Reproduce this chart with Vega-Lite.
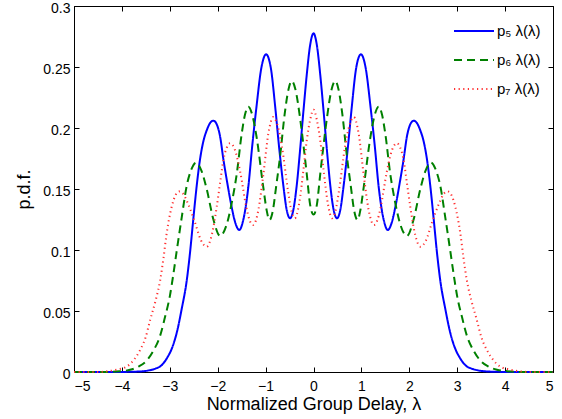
{
 "$schema": "https://vega.github.io/schema/vega-lite/v6.json",
 "width": 479,
 "height": 366,
 "autosize": {"type": "none"},
 "padding": {"left": 74, "top": 6, "right": 9, "bottom": 47},
 "background": "white",
 "config": {
  "view": {"stroke": "black", "strokeWidth": 1},
  "font": "Liberation Sans",
  "axis": {"domainColor": "black", "tickColor": "black", "labelColor": "black", "titleColor": "black", "labelFont": "Liberation Sans", "titleFont": "Liberation Sans", "labelFontSize": 14, "titleFontSize": 18, "titleFontWeight": "normal", "grid": false, "tickSize": -5, "tickWidth": 1, "domainWidth": 1},
  "legend": {"orient": "none", "legendX": 379, "legendY": 4, "padding": 0, "symbolType": "stroke", "symbolSize": 1600, "symbolStrokeWidth": 2, "rowPadding": -11.5, "labelOffset": 2, "labelFont": "Liberation Sans", "labelFontSize": 15, "labelColor": "black"}
 },
 "data": {"values": [
  {"s":"p5","x":-5,"y":0},{"s":"p5","x":-4.2,"y":0},{"s":"p5","x":-3.9,"y":0.0001},{"s":"p5","x":-3.7,"y":0.0003},{"s":"p5","x":-3.5,"y":0.0009},{"s":"p5","x":-3.3,"y":0.0028},{"s":"p5","x":-3.2,"y":0.0046},{"s":"p5","x":-3.05,"y":0.012},{"s":"p5","x":-2.95,"y":0.02},{"s":"p5","x":-2.85,"y":0.033},{"s":"p5","x":-2.75,"y":0.052},{"s":"p5","x":-2.65,"y":0.074},{"s":"p5","x":-2.58,"y":0.097},{"s":"p5","x":-2.51,"y":0.125},{"s":"p5","x":-2.44,"y":0.152},{"s":"p5","x":-2.37,"y":0.174},{"s":"p5","x":-2.3,"y":0.189},{"s":"p5","x":-2.23,"y":0.198},{"s":"p5","x":-2.16,"y":0.204},{"s":"p5","x":-2.09,"y":0.206},{"s":"p5","x":-2.02,"y":0.203},{"s":"p5","x":-1.95,"y":0.193},{"s":"p5","x":-1.88,"y":0.174},{"s":"p5","x":-1.8,"y":0.155},{"s":"p5","x":-1.71,"y":0.1355},{"s":"p5","x":-1.63,"y":0.122},{"s":"p5","x":-1.55,"y":0.1164},{"s":"p5","x":-1.47,"y":0.124},{"s":"p5","x":-1.36,"y":0.152},{"s":"p5","x":-1.28,"y":0.185},{"s":"p5","x":-1.19,"y":0.2175},{"s":"p5","x":-1.09,"y":0.249},{"s":"p5","x":-0.99,"y":0.2604},{"s":"p5","x":-0.89,"y":0.249},{"s":"p5","x":-0.8,"y":0.2175},{"s":"p5","x":-0.72,"y":0.185},{"s":"p5","x":-0.63,"y":0.153},{"s":"p5","x":-0.56,"y":0.133},{"s":"p5","x":-0.49,"y":0.126},{"s":"p5","x":-0.42,"y":0.133},{"s":"p5","x":-0.35,"y":0.153},{"s":"p5","x":-0.28,"y":0.182},{"s":"p5","x":-0.21,"y":0.214},{"s":"p5","x":-0.14,"y":0.244},{"s":"p5","x":-0.07,"y":0.268},{"s":"p5","x":0,"y":0.2776},
  {"s":"p5","x":0.07,"y":0.268},{"s":"p5","x":0.14,"y":0.244},{"s":"p5","x":0.21,"y":0.214},{"s":"p5","x":0.28,"y":0.182},{"s":"p5","x":0.35,"y":0.153},{"s":"p5","x":0.42,"y":0.133},{"s":"p5","x":0.49,"y":0.126},{"s":"p5","x":0.56,"y":0.133},{"s":"p5","x":0.63,"y":0.153},{"s":"p5","x":0.72,"y":0.185},{"s":"p5","x":0.8,"y":0.2175},{"s":"p5","x":0.89,"y":0.249},{"s":"p5","x":0.99,"y":0.2604},{"s":"p5","x":1.09,"y":0.249},{"s":"p5","x":1.19,"y":0.2175},{"s":"p5","x":1.28,"y":0.185},{"s":"p5","x":1.36,"y":0.152},{"s":"p5","x":1.47,"y":0.124},{"s":"p5","x":1.55,"y":0.1164},{"s":"p5","x":1.63,"y":0.122},{"s":"p5","x":1.71,"y":0.1355},{"s":"p5","x":1.8,"y":0.155},{"s":"p5","x":1.88,"y":0.174},{"s":"p5","x":1.95,"y":0.193},{"s":"p5","x":2.02,"y":0.203},{"s":"p5","x":2.09,"y":0.206},{"s":"p5","x":2.16,"y":0.204},{"s":"p5","x":2.23,"y":0.198},{"s":"p5","x":2.3,"y":0.189},{"s":"p5","x":2.37,"y":0.174},{"s":"p5","x":2.44,"y":0.152},{"s":"p5","x":2.51,"y":0.125},{"s":"p5","x":2.58,"y":0.097},{"s":"p5","x":2.65,"y":0.074},{"s":"p5","x":2.75,"y":0.052},{"s":"p5","x":2.85,"y":0.033},{"s":"p5","x":2.95,"y":0.02},{"s":"p5","x":3.05,"y":0.012},{"s":"p5","x":3.2,"y":0.0046},{"s":"p5","x":3.3,"y":0.0028},{"s":"p5","x":3.5,"y":0.0009},{"s":"p5","x":3.7,"y":0.0003},{"s":"p5","x":3.9,"y":0.0001},{"s":"p5","x":4.2,"y":0},{"s":"p5","x":5,"y":0},
  {"s":"p6","x":-5,"y":0},{"s":"p6","x":-4.3,"y":0},{"s":"p6","x":-4.05,"y":0.0006},{"s":"p6","x":-3.83,"y":0.0018},{"s":"p6","x":-3.65,"y":0.0045},{"s":"p6","x":-3.48,"y":0.0095},{"s":"p6","x":-3.35,"y":0.017},{"s":"p6","x":-3.2,"y":0.03},{"s":"p6","x":-3.1,"y":0.045},{"s":"p6","x":-3.0,"y":0.062},{"s":"p6","x":-2.93,"y":0.079},{"s":"p6","x":-2.86,"y":0.098},{"s":"p6","x":-2.75,"y":0.127},{"s":"p6","x":-2.65,"y":0.152},{"s":"p6","x":-2.55,"y":0.166},{"s":"p6","x":-2.45,"y":0.1716},{"s":"p6","x":-2.34,"y":0.165},{"s":"p6","x":-2.23,"y":0.15},{"s":"p6","x":-2.09,"y":0.125},{"s":"p6","x":-1.95,"y":0.1115},{"s":"p6","x":-1.82,"y":0.12},{"s":"p6","x":-1.7,"y":0.14},{"s":"p6","x":-1.6,"y":0.163},{"s":"p6","x":-1.5,"y":0.195},{"s":"p6","x":-1.43,"y":0.211},{"s":"p6","x":-1.36,"y":0.2175},{"s":"p6","x":-1.28,"y":0.211},{"s":"p6","x":-1.19,"y":0.193},{"s":"p6","x":-1.05,"y":0.152},{"s":"p6","x":-0.98,"y":0.133},{"s":"p6","x":-0.92,"y":0.1246},{"s":"p6","x":-0.85,"y":0.132},{"s":"p6","x":-0.78,"y":0.152},{"s":"p6","x":-0.7,"y":0.176},{"s":"p6","x":-0.6,"y":0.212},{"s":"p6","x":-0.52,"y":0.232},{"s":"p6","x":-0.455,"y":0.2385},{"s":"p6","x":-0.38,"y":0.232},{"s":"p6","x":-0.28,"y":0.208},{"s":"p6","x":-0.21,"y":0.186},{"s":"p6","x":-0.14,"y":0.162},{"s":"p6","x":-0.07,"y":0.137},{"s":"p6","x":0,"y":0.129},
  {"s":"p6","x":0.07,"y":0.137},{"s":"p6","x":0.14,"y":0.162},{"s":"p6","x":0.21,"y":0.186},{"s":"p6","x":0.28,"y":0.208},{"s":"p6","x":0.38,"y":0.232},{"s":"p6","x":0.455,"y":0.2385},{"s":"p6","x":0.52,"y":0.232},{"s":"p6","x":0.6,"y":0.212},{"s":"p6","x":0.7,"y":0.176},{"s":"p6","x":0.78,"y":0.152},{"s":"p6","x":0.85,"y":0.132},{"s":"p6","x":0.92,"y":0.1246},{"s":"p6","x":0.98,"y":0.133},{"s":"p6","x":1.05,"y":0.152},{"s":"p6","x":1.19,"y":0.193},{"s":"p6","x":1.28,"y":0.211},{"s":"p6","x":1.36,"y":0.2175},{"s":"p6","x":1.43,"y":0.211},{"s":"p6","x":1.5,"y":0.195},{"s":"p6","x":1.6,"y":0.163},{"s":"p6","x":1.7,"y":0.14},{"s":"p6","x":1.82,"y":0.12},{"s":"p6","x":1.95,"y":0.1115},{"s":"p6","x":2.09,"y":0.125},{"s":"p6","x":2.23,"y":0.15},{"s":"p6","x":2.34,"y":0.165},{"s":"p6","x":2.45,"y":0.1716},{"s":"p6","x":2.55,"y":0.166},{"s":"p6","x":2.65,"y":0.152},{"s":"p6","x":2.75,"y":0.127},{"s":"p6","x":2.86,"y":0.098},{"s":"p6","x":2.93,"y":0.079},{"s":"p6","x":3.0,"y":0.062},{"s":"p6","x":3.1,"y":0.045},{"s":"p6","x":3.2,"y":0.03},{"s":"p6","x":3.35,"y":0.017},{"s":"p6","x":3.48,"y":0.0095},{"s":"p6","x":3.65,"y":0.0045},{"s":"p6","x":3.83,"y":0.0018},{"s":"p6","x":4.05,"y":0.0006},{"s":"p6","x":4.3,"y":0},{"s":"p6","x":5,"y":0},
  {"s":"p7","x":-5,"y":0},{"s":"p7","x":-4.5,"y":0},{"s":"p7","x":-4.3,"y":0.0006},{"s":"p7","x":-4.1,"y":0.002},{"s":"p7","x":-3.9,"y":0.0044},{"s":"p7","x":-3.75,"y":0.01},{"s":"p7","x":-3.62,"y":0.018},{"s":"p7","x":-3.5,"y":0.029},{"s":"p7","x":-3.41,"y":0.0426},{"s":"p7","x":-3.3,"y":0.058},{"s":"p7","x":-3.2,"y":0.0754},{"s":"p7","x":-3.13,"y":0.094},{"s":"p7","x":-3.065,"y":0.1137},{"s":"p7","x":-2.96,"y":0.1355},{"s":"p7","x":-2.88,"y":0.145},{"s":"p7","x":-2.8,"y":0.148},{"s":"p7","x":-2.72,"y":0.146},{"s":"p7","x":-2.62,"y":0.138},{"s":"p7","x":-2.47,"y":0.122},{"s":"p7","x":-2.35,"y":0.108},{"s":"p7","x":-2.23,"y":0.1027},{"s":"p7","x":-2.12,"y":0.113},{"s":"p7","x":-2.02,"y":0.1355},{"s":"p7","x":-1.95,"y":0.155},{"s":"p7","x":-1.88,"y":0.174},{"s":"p7","x":-1.81,"y":0.184},{"s":"p7","x":-1.74,"y":0.1875},{"s":"p7","x":-1.64,"y":0.182},{"s":"p7","x":-1.53,"y":0.164},{"s":"p7","x":-1.4,"y":0.1345},{"s":"p7","x":-1.33,"y":0.124},{"s":"p7","x":-1.26,"y":0.1205},{"s":"p7","x":-1.15,"y":0.133},{"s":"p7","x":-1.05,"y":0.161},{"s":"p7","x":-0.94,"y":0.196},{"s":"p7","x":-0.84,"y":0.209},{"s":"p7","x":-0.75,"y":0.202},{"s":"p7","x":-0.66,"y":0.185},{"s":"p7","x":-0.53,"y":0.148},{"s":"p7","x":-0.46,"y":0.132},{"s":"p7","x":-0.39,"y":0.126},{"s":"p7","x":-0.3,"y":0.138},{"s":"p7","x":-0.21,"y":0.1656},{"s":"p7","x":-0.14,"y":0.19},{"s":"p7","x":-0.07,"y":0.2066},{"s":"p7","x":0,"y":0.215},
  {"s":"p7","x":0.07,"y":0.2066},{"s":"p7","x":0.14,"y":0.19},{"s":"p7","x":0.21,"y":0.1656},{"s":"p7","x":0.3,"y":0.138},{"s":"p7","x":0.39,"y":0.126},{"s":"p7","x":0.46,"y":0.132},{"s":"p7","x":0.53,"y":0.148},{"s":"p7","x":0.66,"y":0.185},{"s":"p7","x":0.75,"y":0.202},{"s":"p7","x":0.84,"y":0.209},{"s":"p7","x":0.94,"y":0.196},{"s":"p7","x":1.05,"y":0.161},{"s":"p7","x":1.15,"y":0.133},{"s":"p7","x":1.26,"y":0.1205},{"s":"p7","x":1.33,"y":0.124},{"s":"p7","x":1.4,"y":0.1345},{"s":"p7","x":1.53,"y":0.164},{"s":"p7","x":1.64,"y":0.182},{"s":"p7","x":1.74,"y":0.1875},{"s":"p7","x":1.81,"y":0.184},{"s":"p7","x":1.88,"y":0.174},{"s":"p7","x":1.95,"y":0.155},{"s":"p7","x":2.02,"y":0.1355},{"s":"p7","x":2.12,"y":0.113},{"s":"p7","x":2.23,"y":0.1027},{"s":"p7","x":2.35,"y":0.108},{"s":"p7","x":2.47,"y":0.122},{"s":"p7","x":2.62,"y":0.138},{"s":"p7","x":2.72,"y":0.146},{"s":"p7","x":2.8,"y":0.148},{"s":"p7","x":2.88,"y":0.145},{"s":"p7","x":2.96,"y":0.1355},{"s":"p7","x":3.065,"y":0.1137},{"s":"p7","x":3.13,"y":0.094},{"s":"p7","x":3.2,"y":0.0754},{"s":"p7","x":3.3,"y":0.058},{"s":"p7","x":3.41,"y":0.0426},{"s":"p7","x":3.5,"y":0.029},{"s":"p7","x":3.62,"y":0.018},{"s":"p7","x":3.75,"y":0.01},{"s":"p7","x":3.9,"y":0.0044},{"s":"p7","x":4.1,"y":0.002},{"s":"p7","x":4.3,"y":0.0006},{"s":"p7","x":4.5,"y":0},{"s":"p7","x":5,"y":0}
 ]},
 "layer": [
  {
   "mark": {"type": "line", "interpolate": "monotone"},
   "encoding": {
    "x": {"field": "x", "type": "quantitative", "scale": {"domain": [-5, 5], "nice": false}, "axis": {"title": "Normalized Group Delay, λ", "values": [-5, -4, -3, -2, -1, 0, 1, 2, 3, 4, 5], "format": "d", "labelPadding": 12, "titlePadding": 2}},
    "y": {"field": "y", "type": "quantitative", "scale": {"domain": [0, 0.3], "nice": false}, "axis": {"title": "p.d.f.", "values": [0, 0.05, 0.1, 0.15, 0.2, 0.25, 0.3], "format": "~g", "labelPadding": 9, "labelOffset": 2, "titlePadding": 9}},
    "color": {"field": "s", "type": "nominal", "scale": {"domain": ["p5", "p6", "p7"], "range": ["#0000ff", "#008000", "#ff3030"]}, "legend": {"title": null, "labelExpr": "datum.label == 'p5' ? 'p₅ λ(λ)' : datum.label == 'p6' ? 'p₆ λ(λ)' : 'p₇ λ(λ)'"}},
    "strokeDash": {"field": "s", "type": "nominal", "scale": {"domain": ["p5", "p6", "p7"], "range": [[1, 0], [8, 5], [1.2, 3.4]]}, "legend": {"title": null, "labelExpr": "datum.label == 'p5' ? 'p₅ λ(λ)' : datum.label == 'p6' ? 'p₆ λ(λ)' : 'p₇ λ(λ)'"}},
    "strokeWidth": {"field": "s", "type": "nominal", "scale": {"domain": ["p5", "p6", "p7"], "range": [2, 2, 1.2]}, "legend": null},
    "opacity": {"field": "s", "type": "nominal", "scale": {"domain": ["p5", "p6", "p7"], "range": [1, 1, 0.75]}, "legend": null}
   }
  },
  {
   "mark": {"type": "line", "opacity": 0},
   "encoding": {
    "x": {"field": "x", "type": "quantitative", "axis": {"orient": "top", "labels": false, "title": null, "domain": false, "values": [-5, -4, -3, -2, -1, 0, 1, 2, 3, 4, 5]}},
    "y": {"field": "y", "type": "quantitative", "axis": {"orient": "right", "labels": false, "title": null, "domain": false, "values": [0, 0.05, 0.1, 0.15, 0.2, 0.25, 0.3]}},
    "detail": {"field": "s"}
   }
  }
 ],
 "resolve": {"axis": {"x": "independent", "y": "independent"}}
}
